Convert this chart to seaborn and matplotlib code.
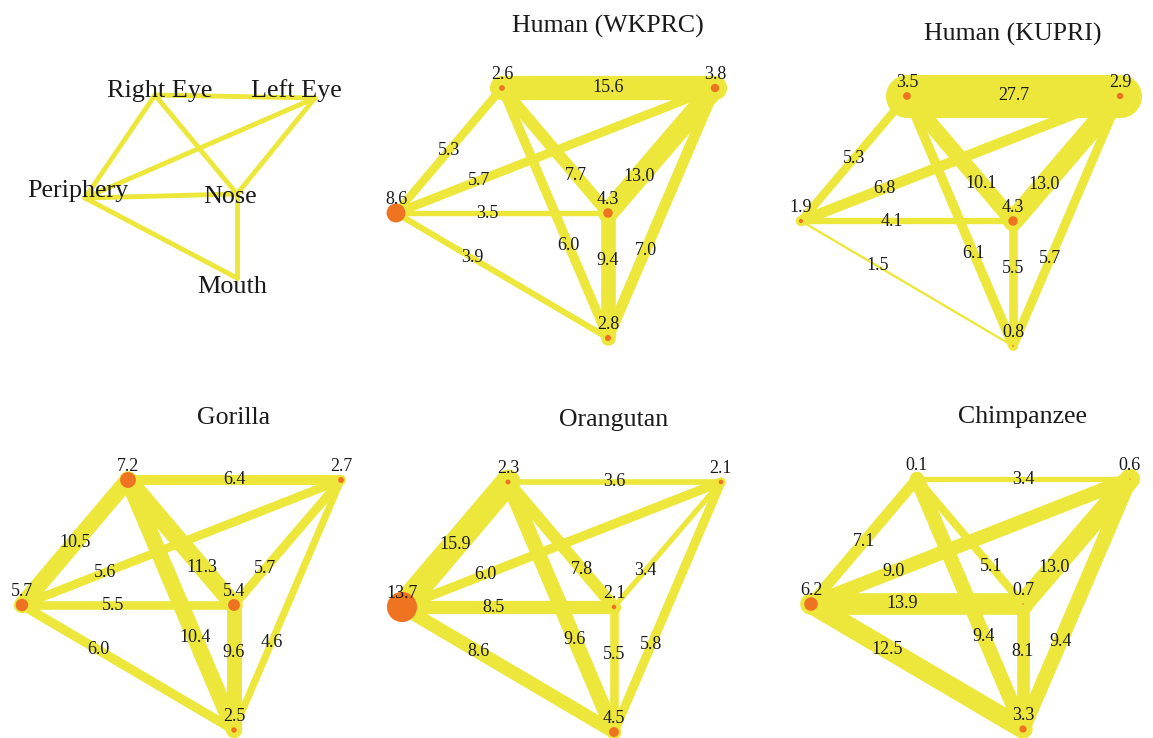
import numpy as np
import pandas as pd
import matplotlib.pyplot as plt
import seaborn as sns

sns.set_theme(style='white')
plt.rcParams['font.family'] = ['Liberation Serif', 'DejaVu Serif']

# face regions (nodes), same order in every panel
regions = ['Right Eye', 'Left Eye', 'Periphery', 'Nose', 'Mouth']
# transitions between regions (edges), same order in every panel
pairs = [('Right Eye', 'Left Eye'), ('Right Eye', 'Periphery'), ('Periphery', 'Left Eye'),
         ('Periphery', 'Nose'), ('Periphery', 'Mouth'), ('Right Eye', 'Nose'),
         ('Left Eye', 'Nose'), ('Right Eye', 'Mouth'), ('Nose', 'Mouth'), ('Left Eye', 'Mouth')]

titles = ['Human (WKPRC)', 'Human (KUPRI)', 'Gorilla', 'Orangutan', 'Chimpanzee']

# node values
wkprc_nodes = [2.6, 3.8, 8.6, 4.3, 2.8]
kupri_nodes = [3.5, 2.9, 1.9, 4.3, 0.8]
gorilla_nodes = [7.2, 2.7, 5.7, 5.4, 2.5]
orangutan_nodes = [2.3, 2.1, 13.7, 2.1, 4.5]
chimp_nodes = [0.1, 0.6, 6.2, 0.7, 3.3]

# edge values
wkprc_edges = [15.6, 5.3, 5.7, 3.5, 3.9, 7.7, 13.0, 6.0, 9.4, 7.0]
kupri_edges = [27.7, 5.3, 6.8, 4.1, 1.5, 10.1, 13.0, 6.1, 5.5, 5.7]
gorilla_edges = [6.4, 10.5, 5.6, 5.5, 6.0, 11.3, 5.7, 10.4, 9.6, 4.6]
orangutan_edges = [3.6, 15.9, 6.0, 8.5, 8.6, 7.8, 3.4, 9.6, 5.5, 5.8]
chimp_edges = [3.4, 7.1, 9.0, 13.9, 12.5, 5.1, 13.0, 9.4, 8.1, 9.4]

all_nodes = [wkprc_nodes, kupri_nodes, gorilla_nodes, orangutan_nodes, chimp_nodes]
all_edges = [wkprc_edges, kupri_edges, gorilla_edges, orangutan_edges, chimp_edges]

YELLOW = '#ece73a'
ORANGE = '#ee7422'
TXT = '#1a1a1a'
W, H = 1153, 738

# ---- layout ----
# network layout (pixel-like units, y up)
pos = {'Right Eye': (106, 250), 'Left Eye': (319, 250), 'Periphery': (0, 125),
       'Nose': (212, 125), 'Mouth': (212, 0)}
# where the number sits along each edge (fraction from first node)
label_frac = [0.5, 0.5, 0.26, 0.43, 0.36, 0.70, 0.71, 0.63, 0.38, 0.65]
# pixel position of the Periphery node in each panel
anchors = [(396, 213), (801, 221), (22, 605), (402, 607), (811, 604)]

# schematic panel (pixel coords, y down)
sketch_pos = {'Right Eye': (155, 95), 'Left Eye': (315, 98), 'Periphery': (85, 198),
              'Nose': (237, 194), 'Mouth': (237, 278)}
sketch_text = {'Right Eye': (160, 91), 'Left Eye': (296, 91), 'Periphery': (78, 191),
               'Nose': (230, 197), 'Mouth': (232, 287)}
sketch_pairs = [('Right Eye', 'Left Eye'), ('Right Eye', 'Periphery'), ('Periphery', 'Left Eye'),
                ('Periphery', 'Nose'), ('Periphery', 'Mouth'), ('Right Eye', 'Nose'),
                ('Left Eye', 'Nose'), ('Nose', 'Mouth')]

fig = plt.figure(figsize=(W / 100, H / 100), dpi=100)

# schematic
ax0 = fig.add_axes([0, 0, 1, 1])
ax0.set_xlim(0, W)
ax0.set_ylim(H, 0)
ax0.set_axis_off()
for a, b in sketch_pairs:
    (x0, y0), (x1, y1) = sketch_pos[a], sketch_pos[b]
    ax0.plot([x0, x1], [y0, y1], color=YELLOW, lw=3.5, solid_capstyle='round', zorder=1)
for r in regions:
    ax0.text(*sketch_text[r], r, ha='center', va='center', fontsize=18.8, color=TXT, zorder=3)

# network panels
for title, nodes, edges, (px, py) in zip(titles, all_nodes, all_edges, anchors):
    ax = fig.add_axes([(px - 40) / W, 1 - (py + 160) / H, 400 / W, 325 / H])
    ax.set_xlim(-40, 360)
    ax.set_ylim(-35, 290)
    ax.set_axis_off()

    for (a, b), v, t in zip(pairs, edges, label_frac):
        (x0, y0), (x1, y1) = pos[a], pos[b]
        ax.plot([x0, x1], [y0, y1], color=YELLOW, lw=v * 1.12,
                solid_capstyle='round', zorder=1)
        ax.text(x0 + t * (x1 - x0), y0 + t * (y1 - y0), f'{v:.1f}', ha='center',
                va='center', fontsize=13, color=TXT, zorder=4)

    df = pd.DataFrame({'x': [pos[r][0] for r in regions],
                       'y': [pos[r][1] for r in regions],
                       'v': nodes})
    sns.scatterplot(data=df, x='x', y='y', s=np.array((df['v'] * 2.2 * 0.72) ** 2),
                    color=ORANGE, edgecolor='none', linewidth=0, legend=False,
                    ax=ax, zorder=3)
    for _, row in df.iterrows():
        ax.annotate(f"{row['v']:.1f}", (row['x'], row['y']), xytext=(0, 10),
                    textcoords='offset points', ha='center', va='center',
                    fontsize=13, color=TXT, zorder=5)
    ax.text(212, 312, title, ha='center', va='center', fontsize=18.6, color=TXT)

fig.savefig('out.png', dpi=100)
